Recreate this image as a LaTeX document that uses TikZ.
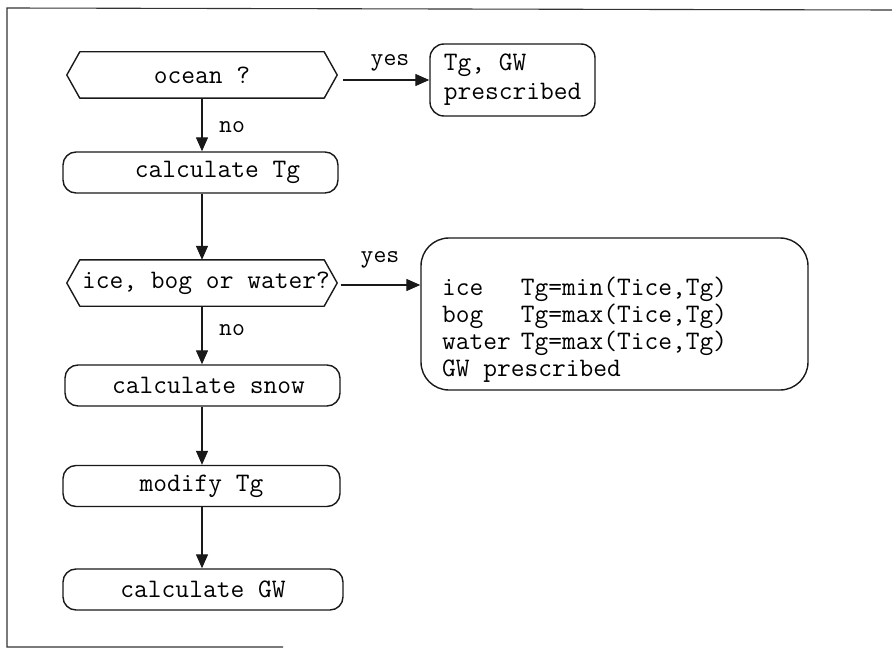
\documentclass[tikz,border=0pt]{standalone}
\usepackage{fontspec}
\usetikzlibrary{arrows.meta,calc}

\begin{document}
\begin{tikzpicture}[x=1pt,y=-1pt,
  every node/.style={font=\ttfamily\fontsize{26.7}{27}\selectfont, inner sep=0pt},
  boxline/.style={line width=1.4pt, draw=black!90},
  proc/.style={boxline, rounded corners=13pt, minimum width=#1, minimum height=41pt},
  hexbox/.style={minimum width=270pt, minimum height=46pt},
  hexline/.style={line width=1.4pt, draw=black!90, line join=round},
  flow/.style={line width=1.3pt, draw=black!90, -{Triangle[length=14pt,width=12pt]}},
  lbl/.style={font=\ttfamily\fontsize{25}{27}\selectfont}
]
\useasboundingbox (0,0) rectangle (892,650);

% outer frame
\draw[line width=1.1pt, black!80] (892,10) -- (7,8) -- (7,647) -- (283,647);

% decisions
\node[hexbox] (ocean) at (202,75) {ocean ?};
\node[hexbox] (ice) at (202,283) {\hspace{8pt}ice, bog or water?};
\foreach \h in {ocean,ice}{
  \draw[hexline] (\h.west) -- ([xshift=13pt]\h.north west) -- ([xshift=-13pt]\h.north east)
    -- (\h.east) -- ([xshift=-13pt]\h.south east) -- ([xshift=13pt]\h.south west) -- cycle;
}

% process steps
\node[proc=275pt] (calcTg) at (200.5,172.5) {\hspace{34pt}calculate Tg};
\node[proc=275pt] (snow) at (202.5,385.5) {\hspace{12pt}calculate snow};
\node[proc=277pt] (modTg) at (201.5,486) {modify Tg};
\node[proc=280pt] (calcGW) at (203,589.5) {calculate GW};

% prescribed values
\node[boxline, rounded corners=14pt, minimum width=165pt, minimum height=72pt,
      align=left, font=\ttfamily\fontsize{26.7}{29}\selectfont] (presc1) at (512.5,80)
      {Tg, GW\\prescribed};
\node[boxline, rounded corners=28pt, minimum width=387pt, minimum height=152pt] (presc2) at (614.5,314) {};
\node[anchor=base west] (presc2txt) at (442,295)
  {\begin{tabular}[t]{@{}l@{\hspace{10pt}}l@{}}
   ice & Tg=min(Tice,Tg)\\
   bog & Tg=max(Tice,Tg)\\
   water & Tg=max(Tice,Tg)\\
   \multicolumn{2}{@{}l@{}}{GW prescribed}
   \end{tabular}};

% connectors
\draw[flow] ($(ocean.east |- presc1.west)+(6pt,0)$) -- (presc1.west);
\node[lbl] (yes1) at (390,63) {yes};
\draw[flow] (ocean.south) -- (ocean.south |- calcTg.north);
\node[lbl] (no1) at (232,127) {no};
\draw[flow] (calcTg.south -| ocean.south) -- (ocean.south |- ice.north);
\draw[flow] ($(ice.east)+(4pt,-2pt)$) -- ($(ice.east -| presc2.west)+(0,-2pt)$);
\node[lbl] (yes2) at (380,260) {yes};
\draw[flow] (ice.south) -- (ice.south |- snow.north);
\node[lbl] (no2) at (232,330) {no};
\draw[flow] (snow.south -| ice.south) -- (ice.south |- modTg.north);
\draw[flow] (modTg.south -| ice.south) -- (ice.south |- calcGW.north);
\end{tikzpicture}
\end{document}
